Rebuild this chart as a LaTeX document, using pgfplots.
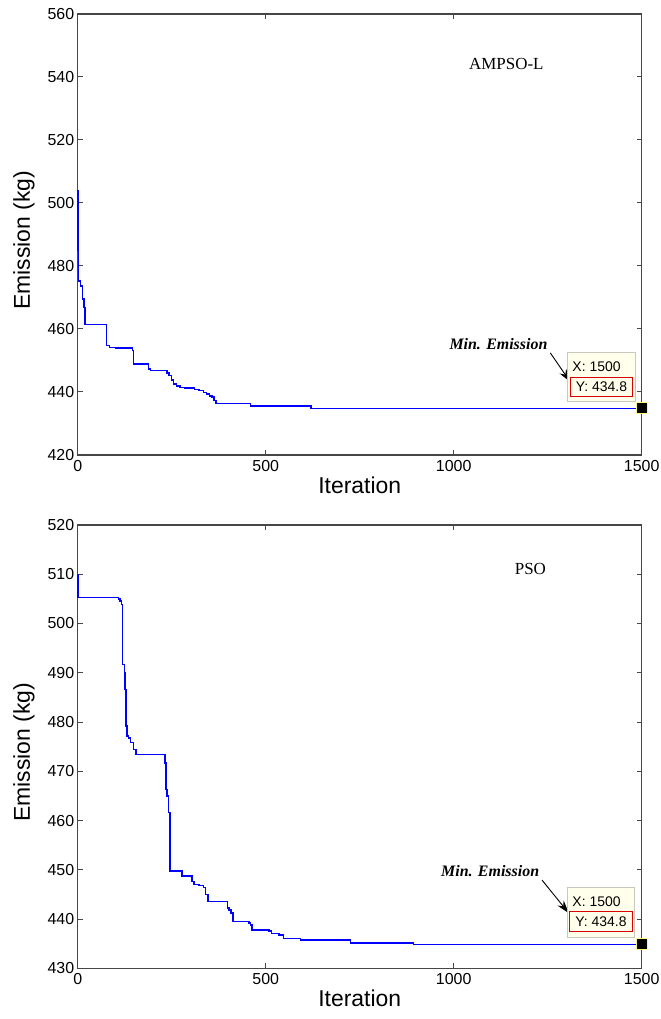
\documentclass[border=0pt]{standalone}
\usepackage{fontspec}
\setmainfont{Liberation Sans}
\newfontfamily\tnr{Liberation Serif}
\usepackage{pgfplots}
\pgfplotsset{compat=1.18}
\usetikzlibrary{arrows.meta}
\definecolor{axgray}{RGB}{70,70,70}
\definecolor{tipfill}{RGB}{255,255,236}
\definecolor{tipedge}{RGB}{200,200,190}
\pgfplotsset{
  mystyle/.style={
    scale only axis, width=564bp,
    xmin=0, xmax=1500, xtick={0,500,1000,1500},
    tick align=inside, major tick length=5bp,
    axis line style={draw=axgray, line width=1.3bp},
    every tick/.style={draw=axgray, line width=1bp},
    ticklabel style={font=\fontsize{16}{16}\selectfont},
    xticklabel style={yshift=-2bp},
    /pgf/number format/assume math mode=true,
    /pgf/number format/1000 sep={},
    xlabel={Iteration}, ylabel={Emission (kg)},
    label style={font=\fontsize{23}{23}\selectfont},
    xlabel style={yshift=2bp},
    ylabel style={at={(ticklabel cs:0.487)}, anchor=south, yshift=6bp},
    clip=false,
  },
  curve/.style={const plot, color=blue, line width=1.5bp},
  tipmark/.style={only marks, mark=square*, mark size=5.5bp, mark options={fill=black, draw=yellow!50!white, line width=0.8bp}},
}
\pgfplotstableread{
x y
0 504.0
1 485.0
2 475.3
8 473.7
13 469.5
17 466.9
20 461.4
76 454.7
85 454.2
100 453.9
146 453.1
149 448.9
188 447.3
193 446.8
237 446.0
243 445.2
250 443.8
255 442.6
263 441.9
272 441.5
285 441.2
310 440.8
322 440.5
334 439.8
343 439.4
350 438.8
357 438.4
363 437.3
368 436.3
460 435.5
620 434.8
1500 434.8
}\ampso
\pgfplotstableread{
x y
0 509.8
1 505.3
108 505.0
113 504.6
117 503.9
119 491.7
124 490.0
126 486.6
129 479.2
131 477.2
135 476.8
141 475.8
148 474.4
155 473.4
232 471.7
235 466.3
238 465.0
241 461.6
246 449.8
278 448.7
304 447.6
309 447.0
322 446.8
335 446.4
340 445.0
346 443.6
398 442.2
402 441.8
408 441.2
413 439.5
455 439.2
460 438.8
464 437.8
509 437.6
515 437.1
536 436.8
547 436.1
593 435.7
725 435.1
893 434.8
1500 434.8
}\pso
\begin{document}
\begin{tikzpicture}
\useasboundingbox (0,0) rectangle (661bp,1019bp);
% top
\begin{axis}[mystyle, at={(77.7bp,1005bp)}, anchor=north west, height=441bp,
  ymin=420, ymax=560, ytick={420,440,...,560}]
\addplot[curve] table[x=x,y=y] {\ampso};
\addplot[tipmark] coordinates {(1500,434.8)};
\node[font=\tnr\fontsize{17}{17}\selectfont] at (axis cs:1140,544.1) {AMPSO-L};
\node[font=\tnr\bfseries\itshape\fontsize{16}{16}\selectfont] at (axis cs:1119,455.2) {Min. Emission};
\draw[-{Stealth[length=13bp,width=8bp]}, line width=0.9bp] (axis cs:1257,452.4) -- (axis cs:1310,443.2);
\node[anchor=south west, draw=tipedge, fill=tipfill, minimum width=68bp, minimum height=49bp, inner sep=0] (dt) at (axis cs:1302,436.9) {};
\node[anchor=north west, inner sep=0, font=\fontsize{14}{14}\selectfont] at ([xshift=5bp,yshift=-9bp]dt.north west) {X: 1500};
\node[draw=red!85!black, line width=1bp, anchor=south, minimum width=62bp, minimum height=19bp, inner sep=0, font=\fontsize{14}{14}\selectfont] at ([yshift=5bp]dt.south) {Y: 434.8};
\end{axis}
% bottom
\begin{axis}[mystyle, at={(77.7bp,494bp)}, anchor=north west, height=443.3bp,
  ymin=430, ymax=520, ytick={430,440,...,520}]
\addplot[curve] table[x=x,y=y] {\pso};
\addplot[tipmark] coordinates {(1500,435.0)};
\node[font=\tnr\fontsize{17}{17}\selectfont] at (axis cs:1204,511.1) {PSO};
\node[font=\tnr\bfseries\itshape\fontsize{16}{16}\selectfont] at (axis cs:1097,449.8) {Min. Emission};
\draw[-{Stealth[length=13bp,width=8bp]}, line width=0.9bp] (axis cs:1235,447.9) -- (axis cs:1306,441.2);
\node[anchor=south west, draw=tipedge, fill=tipfill, minimum width=67bp, minimum height=50bp, inner sep=0] (dt) at (axis cs:1302,436.2) {};
\node[anchor=north west, inner sep=0, font=\fontsize{14}{14}\selectfont] at ([xshift=5bp,yshift=-9bp]dt.north west) {X: 1500};
\node[draw=red!85!black, line width=1bp, anchor=south, minimum width=63bp, minimum height=20bp, inner sep=0, font=\fontsize{14}{14}\selectfont] at ([yshift=6bp]dt.south) {Y: 434.8};
\end{axis}
\end{tikzpicture}
\end{document}
